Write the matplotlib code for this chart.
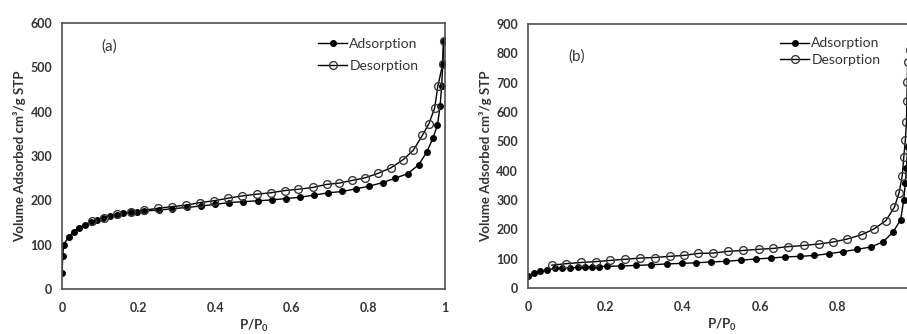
import matplotlib
matplotlib.use("Agg")
import matplotlib.pyplot as plt

plt.rcParams["font.family"] = ["Lato", "DejaVu Sans"]
plt.rcParams["mathtext.fontset"] = "custom"
plt.rcParams["mathtext.rm"] = "Lato"
plt.rcParams["mathtext.bf"] = "Lato:bold"

# panel (a)
ads_a_x = [0.0, 0.002, 0.004, 0.017, 0.03, 0.044, 0.06, 0.076, 0.091, 0.108, 0.125,
           0.143, 0.16, 0.179, 0.197, 0.215, 0.252, 0.288, 0.325, 0.362, 0.4, 0.437,
           0.473, 0.511, 0.548, 0.585, 0.621, 0.659, 0.695, 0.732, 0.767, 0.802,
           0.837, 0.87, 0.902, 0.931, 0.953, 0.968, 0.98, 0.987, 0.991, 0.994, 0.996]
ads_a_y = [37, 74, 100, 117, 129, 138, 145, 152, 156, 161, 165, 168, 171, 173, 174,
           176, 178, 181, 184, 187, 191, 195, 197, 199, 201, 204, 207, 212, 217, 220,
           226, 232, 240, 250, 260, 280, 310, 340, 369, 412, 457, 508, 560]
des_a_x = [0.996, 0.994, 0.981, 0.973, 0.958, 0.941, 0.917, 0.891, 0.858, 0.825, 0.792,
           0.758, 0.724, 0.691, 0.654, 0.617, 0.581, 0.545, 0.509, 0.471, 0.434, 0.397,
           0.36, 0.324, 0.287, 0.251, 0.215, 0.179, 0.144, 0.11, 0.078]
des_a_y = [560, 508, 457, 409, 373, 347, 313, 292, 273, 261, 251, 245, 239, 236, 229,
           225, 222, 217, 214, 210, 205, 199, 195, 189, 186, 182, 178, 174, 169, 161, 153]

# panel (b)
ads_b_x = [0.0, 0.015, 0.032, 0.05, 0.07, 0.087, 0.108, 0.128, 0.147, 0.166, 0.184,
           0.203, 0.24, 0.279, 0.317, 0.358, 0.397, 0.435, 0.474, 0.511, 0.55, 0.589,
           0.627, 0.665, 0.703, 0.74, 0.778, 0.815, 0.851, 0.887, 0.918, 0.943, 0.963,
           0.971, 0.975, 0.978, 0.981, 0.984, 0.988, 0.992]
ads_b_y = [40, 51, 57, 62, 67, 67, 68, 70, 70, 73, 73, 74, 75, 77, 79, 82, 84, 86, 89,
           91, 95, 99, 102, 106, 108, 111, 117, 124, 132, 140, 158, 190, 233, 301, 357,
           410, 480, 560, 660, 780]
des_b_x = [0.992, 0.986, 0.981, 0.98, 0.979, 0.978, 0.975, 0.971, 0.967, 0.959, 0.947,
           0.925, 0.895, 0.863, 0.825, 0.789, 0.752, 0.712, 0.672, 0.634, 0.596, 0.556,
           0.517, 0.478, 0.44, 0.403, 0.366, 0.328, 0.289, 0.251, 0.212, 0.175, 0.137,
           0.099, 0.062]
des_b_y = [850, 810, 770, 704, 636, 567, 503, 445, 382, 325, 276, 230, 202, 182, 167,
           157, 150, 145, 141, 135, 132, 128, 125, 119, 118, 111, 108, 104, 102, 98, 94,
           90, 87, 83, 78]

x_ticks = [0, 0.2, 0.4, 0.6, 0.8, 1]
x_labels_a = ["0", "0.2", "0.4", "0.6", "0.8", "1"]
x_labels_b = ["0", "0.2", "0.4", "0.6", "0.8", ""]  # "1" falls outside the image

fig = plt.figure(figsize=(9.07, 3.34), dpi=100)
ax_a = fig.add_axes([0.0684, 0.1347, 0.4223, 0.7964])
ax_b = fig.add_axes([0.5821, 0.1377, 0.4267, 0.7904])


def draw(ax, ax_x, ax_y, de_x, de_y, ymax, xlabels, tag, tag_xy, leg_xy, spacing):
    ax.plot(ax_x, ax_y, color="black", linewidth=1.0, marker="o", markersize=4.0,
            markerfacecolor="black", markeredgecolor="black", label="Adsorption")
    ax.plot(de_x, de_y, color="black", linewidth=1.0, marker="o", markersize=5.6,
            markerfacecolor="none", markeredgecolor="#3a3a3a", markeredgewidth=1.0,
            label="Desorption")
    ax.set_xlim(0, 1)
    ax.set_ylim(0, ymax)
    ax.set_xticks(x_ticks)
    ax.set_xticklabels(xlabels)
    ax.set_yticks(range(0, ymax + 1, 100))
    ax.tick_params(length=0, labelsize=9, colors="#333333")
    ax.tick_params(axis="x", pad=9)
    ax.tick_params(axis="y", pad=7)
    for lab in ax.get_xticklabels() + ax.get_yticklabels():
        lab.set_fontweight("bold")
    for s in ax.spines.values():
        s.set_color("#505050")
        s.set_linewidth(1.2)
    ax.set_xlabel(r"P/P$_\mathbf{0}$", fontsize=9.5, fontweight="bold", color="#333333",
                  labelpad=3)
    ax.set_ylabel("Volume Adsorbed cm\u00b3/g STP", fontsize=9.5, fontweight="bold",
                  color="#333333", labelpad=3)
    ax.text(tag_xy[0], tag_xy[1], tag, fontsize=11, color="#333333",
            ha="center", va="center", transform=ax.transAxes)
    leg = ax.legend(loc="upper right", bbox_to_anchor=leg_xy, frameon=False,
                    fontsize=10, handlelength=2.1, handletextpad=0.15,
                    labelspacing=spacing, borderaxespad=0.0)
    for t in leg.get_texts():
        t.set_color("#333333")


draw(ax_a, ads_a_x, ads_a_y, des_a_x, des_a_y, 600, x_labels_a, "(a)", (0.123, 0.91),
     (0.945, 0.965), 0.7)
draw(ax_b, ads_b_x, ads_b_y, des_b_x, des_b_y, 900, x_labels_b, "(b)", (0.127, 0.876),
     (0.925, 0.97), 0.35)

fig.savefig("out.png", dpi=100)
